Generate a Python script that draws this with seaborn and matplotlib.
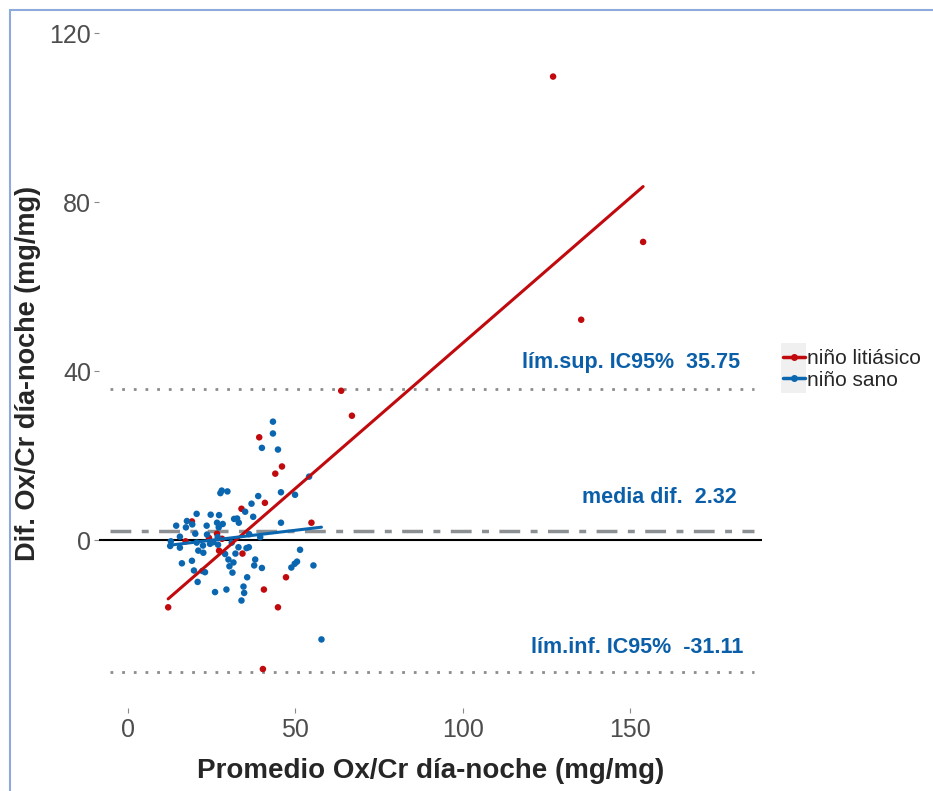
import numpy as np
import pandas as pd
import matplotlib.pyplot as plt
import seaborn as sns
from matplotlib.lines import Line2D
from matplotlib.patches import Rectangle
from matplotlib.legend_handler import HandlerLine2D

# valores (promedio, diferencia)
lit_prom = [63.7, 39.2, 46.0, 44.0, 40.9, 33.9, 54.8, 19.1, 26.6, 24.2, 17.2, 28.1,
            27.2, 34.2, 47.2, 40.6, 12.0, 44.8, 40.3, 127.0, 153.9, 135.4, 66.9]
lit_dif = [35.4, 24.4, 17.5, 15.8, 8.9, 7.5, 4.2, 4.5, 1.6, 0.6, -0.2, 0.4,
           -2.4, -3.1, -8.7, -11.6, -15.8, -15.8, -30.4, 109.7, 70.6, 52.2, 29.5]

sano_prom = [43.3, 43.3, 40.0, 44.8, 54.1, 45.7, 49.9, 27.6, 28.0, 29.7, 38.9, 36.9,
             35.0, 37.4, 20.5, 24.7, 27.2, 31.7, 32.6, 33.1, 17.6, 19.2, 14.4, 17.3,
             23.5, 26.6, 28.3, 27.1, 45.7, 20.1, 23.6, 15.5, 26.8, 36.2, 39.5, 12.8,
             12.6, 15.5, 20.5, 22.4, 24.5, 25.5, 26.9, 31.0, 33.0, 35.4, 36.1, 21.0,
             22.5, 29.0, 32.1, 30.0, 31.5, 38.0, 51.4, 16.1, 19.1, 30.3, 37.7, 40.0,
             50.5, 49.8, 48.8, 55.4, 19.7, 22.2, 23.0, 31.2, 35.6, 20.8, 26.0, 29.4,
             34.5, 34.7, 33.9, 57.8]
sano_dif = [28.1, 25.3, 21.9, 21.5, 15.1, 11.4, 10.8, 11.2, 11.8, 11.6, 10.5, 8.7,
            6.8, 5.6, 6.3, 6.1, 6.0, 5.1, 5.2, 4.2, 4.6, 3.8, 3.5, 3.1,
            3.5, 4.2, 3.9, 3.1, 4.2, 1.6, 1.4, 0.9, 0.8, 1.5, 0.8, -0.2,
            -1.3, -1.7, -0.5, -1.2, -0.8, -0.4, -1.0, -0.5, -1.6, -1.8, -1.6, -2.4,
            -2.9, -3.2, -3.1, -4.5, -5.2, -4.5, -2.2, -5.4, -4.8, -6.1, -5.9, -6.5,
            -5.0, -5.5, -6.4, -5.9, -7.1, -7.2, -7.5, -7.6, -8.7, -9.8, -12.2, -11.6,
            -10.9, -12.4, -14.2, -23.4]

grupos = ["niño litiásico", "niño sano"]
media_dif = 2.32
lim_sup = 35.75
lim_inf = -31.11

colores = {"niño litiásico": "#C00A0E", "niño sano": "#0B66B0"}
azul_txt = "#0B5FA8"

df = pd.DataFrame({
    "prom": lit_prom + sano_prom,
    "dif": lit_dif + sano_dif,
    "grupo": [grupos[0]] * len(lit_prom) + [grupos[1]] * len(sano_prom),
})

sns.set_style("white")
plt.rcParams["font.family"] = ["Liberation Sans", "DejaVu Sans"]

fig = plt.figure(figsize=(9.33, 7.91), dpi=100)
ax = fig.add_axes([0.106, 0.105, 0.711, 0.880])

ax.axhline(0, color="black", lw=1.5, zorder=1)
ax.hlines([lim_sup, lim_inf], -5.5, 187, colors="#8C8C8C", linestyles=(0, (1, 3.2)), lw=2)
ax.hlines(media_dif, -5.5, 187, colors="#8C9093", linestyles=(0, (6, 3, 2, 3)), lw=2.5)

sns.scatterplot(data=df, x="prom", y="dif", hue="grupo", palette=colores,
                s=22, edgecolor="none", legend=False, ax=ax, zorder=3)
for g in grupos:
    sub = df[df["grupo"] == g]
    sns.regplot(data=sub, x="prom", y="dif", scatter=False, ci=None, truncate=True,
                color=colores[g], line_kws={"lw": 2.2, "zorder": 4}, ax=ax)

kw = dict(color=azul_txt, fontsize=15.5, fontweight="bold", ha="right", va="bottom")
ax.text(183, lim_sup + 3.8, f"lím.sup. IC95%  {lim_sup:.2f}", **kw)
ax.text(182, media_dif + 5.3, f"media dif.  {media_dif:.2f}", **kw)
ax.text(184, lim_inf + 3.3, f"lím.inf. IC95%  {lim_inf:.2f}", **kw)

ax.set_xlim(-8.7, 189.5)
ax.set_ylim(-39.6, 125)
ax.set_xticks([0, 50, 100, 150])
ax.set_yticks([0, 40, 80, 120])
sns.despine(ax=ax, left=True, bottom=True)
ax.tick_params(axis="both", length=3.5, width=0.8, color="#8A8A8A",
               labelsize=18, labelcolor="#4D4D4D", left=True, bottom=True)
ax.tick_params(axis="y", pad=2)
ax.tick_params(axis="x", pad=4)
ax.set_xlabel("Promedio Ox/Cr día-noche (mg/mg)", fontsize=20, fontweight="bold", labelpad=11)
ax.set_ylabel("Dif. Ox/Cr día-noche (mg/mg)", fontsize=19.5, fontweight="bold")
ax.yaxis.set_label_coords(-0.088, 0.48)


class HandlerFondo(HandlerLine2D):
    def create_artists(self, legend, orig, xd, yd, w, h, fs, trans):
        arts = super().create_artists(legend, orig, xd, yd, w, h, fs, trans)
        fondo = Rectangle((-xd - 1, -yd - 5), w + 2, h + 10, facecolor="#F0F0F0",
                          edgecolor="none", transform=trans)
        return [fondo] + list(arts)


handles = [Line2D([], [], color=colores[g], lw=2.5, marker="o", markersize=4) for g in grupos]
fig.legend(handles, grupos, loc="center left", bbox_to_anchor=(0.839, 0.533),
           frameon=False, fontsize=15, handlelength=1.05, handletextpad=0.12,
           labelspacing=0.12, borderaxespad=0, borderpad=0,
           handler_map={Line2D: HandlerFondo()})

fig.add_artist(Rectangle((0.0107, -0.01), 1.5, 0.997, transform=fig.transFigure,
                         facecolor="none", edgecolor="#8EA9DB", lw=1.5))

fig.savefig("out.png", dpi=100)
